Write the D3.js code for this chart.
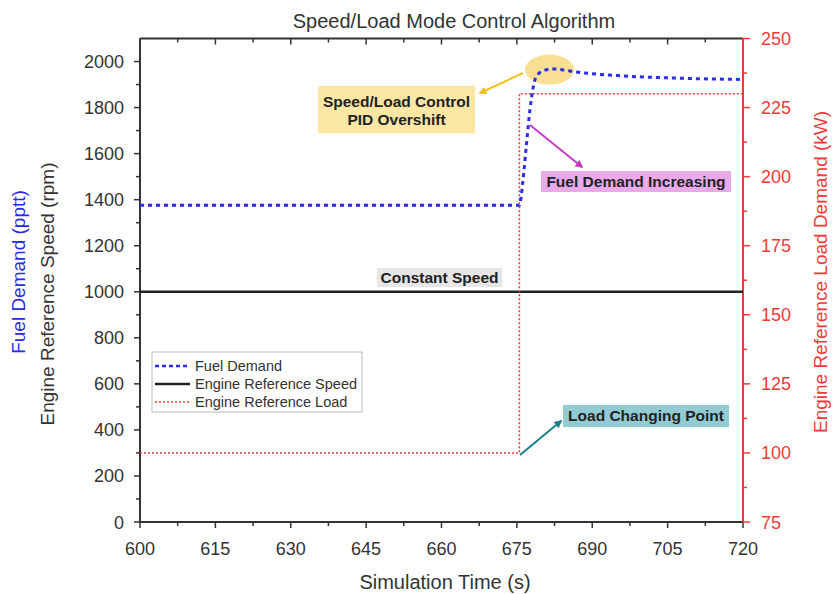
<!DOCTYPE html>
<html>
<head>
<meta charset="utf-8">
<script src="https://cdn.jsdelivr.net/npm/d3@7/dist/d3.min.js"></script>
<style>
  html, body { margin: 0; padding: 0; background: #fff; }
  svg { display: block; font-family: "Liberation Sans", Arial, sans-serif; }
</style>
</head>
<body>
<svg id="chart" width="833" height="594"></svg>
<script>
// Simulation time (s) and the three signals
const fuelTime  = [600, 675.5, 676.2, 676.9, 677.6, 678.3, 679.2, 680.5, 682.3, 684, 686, 690, 695, 700, 705, 710, 720];
const fuelValue = [1376, 1376, 1480, 1640, 1790, 1895, 1945, 1962, 1968, 1964, 1957, 1947, 1939, 1933, 1929, 1926, 1922];
const speedTime  = [600, 720];
const speedValue = [1000, 1000];
const loadTime  = [600, 675.5, 675.5, 720];
const loadValue = [100, 100, 230, 230];

const xTicks = [600, 615, 630, 645, 660, 675, 690, 705, 720];
const yLeftTicks = [0, 200, 400, 600, 800, 1000, 1200, 1400, 1600, 1800, 2000];
const yRightTicks = [75, 100, 125, 150, 175, 200, 225, 250];

const svg = d3.select("#chart");
const L = 140, R = 743, T = 38.5, B = 522;

const x = d3.scaleLinear().domain([600, 720]).range([L, R]);
const yL = d3.scaleLinear().domain([0, 2100]).range([B, T]);
const yR = d3.scaleLinear().domain([75, 250]).range([B, T]);

const grey = "#333";
const red = "#f03a3a";
const blue = "#2b2be8";

// Minor ticks
const xMinor = d3.range(607.5, 720, 15);
const yLMinor = d3.range(100, 2100, 200);
const yRMinor = d3.range(87.5, 250, 25);

// Bottom axis
const gx = svg.append("g").attr("transform", `translate(0,${B})`);
gx.append("line").attr("x1", L).attr("x2", R).attr("stroke", grey).attr("stroke-width", 2);
gx.selectAll(".maj").data(xTicks).join("line")
  .attr("x1", d => x(d)).attr("x2", d => x(d)).attr("y1", 0).attr("y2", 6)
  .attr("stroke", grey).attr("stroke-width", 1.5);
gx.selectAll(".min").data(xMinor).join("line")
  .attr("x1", d => x(d)).attr("x2", d => x(d)).attr("y1", 0).attr("y2", 4)
  .attr("stroke", grey).attr("stroke-width", 1.5);
gx.selectAll("text").data(xTicks).join("text")
  .attr("x", d => x(d)).attr("y", 33).attr("text-anchor", "middle")
  .attr("font-size", 18).attr("fill", grey).text(d => d);

// Top frame with inward ticks
const gt = svg.append("g").attr("transform", `translate(0,${T})`);
gt.append("line").attr("x1", L).attr("x2", R).attr("stroke", grey).attr("stroke-width", 2);
gt.selectAll(".maj").data(xTicks).join("line")
  .attr("x1", d => x(d)).attr("x2", d => x(d)).attr("y1", 0).attr("y2", 6)
  .attr("stroke", grey).attr("stroke-width", 1.5);
gt.selectAll(".min").data(xMinor).join("line")
  .attr("x1", d => x(d)).attr("x2", d => x(d)).attr("y1", 0).attr("y2", 4)
  .attr("stroke", grey).attr("stroke-width", 1.5);

// Left axis
const gl = svg.append("g").attr("transform", `translate(${L},0)`);
gl.append("line").attr("y1", T).attr("y2", B).attr("stroke", grey).attr("stroke-width", 2);
gl.selectAll(".maj").data(yLeftTicks).join("line")
  .attr("x1", -6).attr("x2", 0).attr("y1", d => yL(d)).attr("y2", d => yL(d))
  .attr("stroke", grey).attr("stroke-width", 1.5);
gl.selectAll(".min").data(yLMinor).join("line")
  .attr("x1", -4).attr("x2", 0).attr("y1", d => yL(d)).attr("y2", d => yL(d))
  .attr("stroke", grey).attr("stroke-width", 1.5);
gl.selectAll("text").data(yLeftTicks).join("text")
  .attr("x", -16).attr("y", d => yL(d) + 6.5).attr("text-anchor", "end")
  .attr("font-size", 18).attr("fill", grey).text(d => d);

// Right axis (load)
const gr = svg.append("g").attr("transform", `translate(${R},0)`);
gr.append("line").attr("y1", T).attr("y2", B).attr("stroke", red).attr("stroke-width", 2);
gr.selectAll(".maj").data(yRightTicks).join("line")
  .attr("x1", 0).attr("x2", 7).attr("y1", d => yR(d)).attr("y2", d => yR(d))
  .attr("stroke", red).attr("stroke-width", 1.5);
gr.selectAll(".min").data(yRMinor).join("line")
  .attr("x1", 0).attr("x2", 4).attr("y1", d => yR(d)).attr("y2", d => yR(d))
  .attr("stroke", red).attr("stroke-width", 1.5);
gr.selectAll("text").data(yRightTicks).join("text")
  .attr("x", 18).attr("y", d => yR(d) + 6.5).attr("text-anchor", "start")
  .attr("font-size", 18).attr("fill", red).text(d => d);

// Titles
svg.append("text").attr("x", 454).attr("y", 28).attr("text-anchor", "middle")
  .attr("font-size", 20).attr("fill", grey).text("Speed/Load Mode Control Algorithm");
svg.append("text").attr("x", 445).attr("y", 589).attr("text-anchor", "middle")
  .attr("font-size", 20).attr("fill", grey).text("Simulation Time (s)");
svg.append("text").attr("transform", "translate(25,272) rotate(-90)").attr("text-anchor", "middle")
  .attr("font-size", 19).attr("fill", "#2a2ae0").text("Fuel Demand (pptt)");
svg.append("text").attr("transform", "translate(54,294) rotate(-90)").attr("text-anchor", "middle")
  .attr("font-size", 19).attr("fill", grey).text("Engine Reference Speed (rpm)");
svg.append("text").attr("transform", "translate(827,272) rotate(-90)").attr("text-anchor", "middle")
  .attr("font-size", 19).attr("fill", red).text("Engine Reference Load Demand (kW)");

// Series
const speedLine = d3.line().x((d, i) => x(speedTime[i])).y(d => yL(d));
svg.append("path").datum(speedValue).attr("d", speedLine)
  .attr("fill", "none").attr("stroke", "#222").attr("stroke-width", 2.5);

const loadLine = d3.line().x((d, i) => x(loadTime[i])).y(d => yR(d));
svg.append("path").datum(loadValue).attr("d", loadLine)
  .attr("fill", "none").attr("stroke", red).attr("stroke-width", 1.6)
  .attr("stroke-dasharray", "2,2");

// Overshoot highlight behind the fuel curve
svg.append("ellipse").attr("cx", x(681.5)).attr("cy", yL(1965)).attr("rx", 24.5).attr("ry", 15)
  .attr("fill", "#f8dc88").attr("opacity", 0.9);

const fuelLine = d3.line().x((d, i) => x(fuelTime[i])).y(d => yL(d)).curve(d3.curveMonotoneX);
svg.append("path").datum(fuelValue).attr("d", fuelLine)
  .attr("fill", "none").attr("stroke", blue).attr("stroke-width", 3)
  .attr("stroke-dasharray", "4,4");

// Legend
const lg = svg.append("g");
lg.append("rect").attr("x", 152).attr("y", 352).attr("width", 210).attr("height", 60)
  .attr("fill", "#fff").attr("stroke", "#bbb").attr("stroke-width", 1);
const legendItems = [
  { label: "Fuel Demand", color: blue, w: 2.5, dash: "4,3" },
  { label: "Engine Reference Speed", color: "#222", w: 2.5, dash: null },
  { label: "Engine Reference Load", color: red, w: 1.5, dash: "2,2" }
];
legendItems.forEach((it, i) => {
  const yy = 366 + i * 18;
  lg.append("line").attr("x1", 155).attr("x2", 190).attr("y1", yy).attr("y2", yy)
    .attr("stroke", it.color).attr("stroke-width", it.w)
    .attr("stroke-dasharray", it.dash);
  lg.append("text").attr("x", 195).attr("y", yy + 5).attr("font-size", 14.5)
    .attr("fill", grey).text(it.label);
});

// Arrow markers
const defs = svg.append("defs");
function marker(id, color) {
  defs.append("marker").attr("id", id).attr("viewBox", "0 0 10 10")
    .attr("refX", 8).attr("refY", 5).attr("markerWidth", 4).attr("markerHeight", 4)
    .attr("orient", "auto")
    .append("path").attr("d", "M0,0 L10,5 L0,10 z").attr("fill", color);
}
marker("arrGold", "#f0c020");
marker("arrMag", "#c63cc6");
marker("arrTeal", "#17808c");

function note(x0, y0, w, h, fill, lines, baseline) {
  svg.append("rect").attr("x", x0).attr("y", y0).attr("width", w).attr("height", h).attr("fill", fill);
  lines.forEach((t, i) => {
    svg.append("text").attr("x", x0 + w / 2).attr("y", baseline + i * 18)
      .attr("text-anchor", "middle").attr("font-size", 15.5).attr("font-weight", "bold")
      .attr("fill", "#222").text(t);
  });
}
function arrow(x1, y1, x2, y2, color, id) {
  svg.append("line").attr("x1", x1).attr("y1", y1).attr("x2", x2).attr("y2", y2)
    .attr("stroke", color).attr("stroke-width", 2).attr("marker-end", `url(#${id})`);
}

note(318, 86, 157, 47, "#fce6a4", ["Speed/Load Control", "PID Overshift"], 107);
arrow(523, 73, 480, 93, "#f0c020", "arrGold");

note(541, 171, 190, 21, "#eaaaea", ["Fuel Demand Increasing"], 187);
arrow(530, 125, 582, 167, "#c63cc6", "arrMag");

note(377, 268, 125, 19, "#e6e6e6", ["Constant Speed"], 283);

note(563, 405, 166, 22, "#93cbd3", ["Load Changing Point"], 421);
arrow(520, 455, 561, 421, "#17808c", "arrTeal");
</script>
</body>
</html>
